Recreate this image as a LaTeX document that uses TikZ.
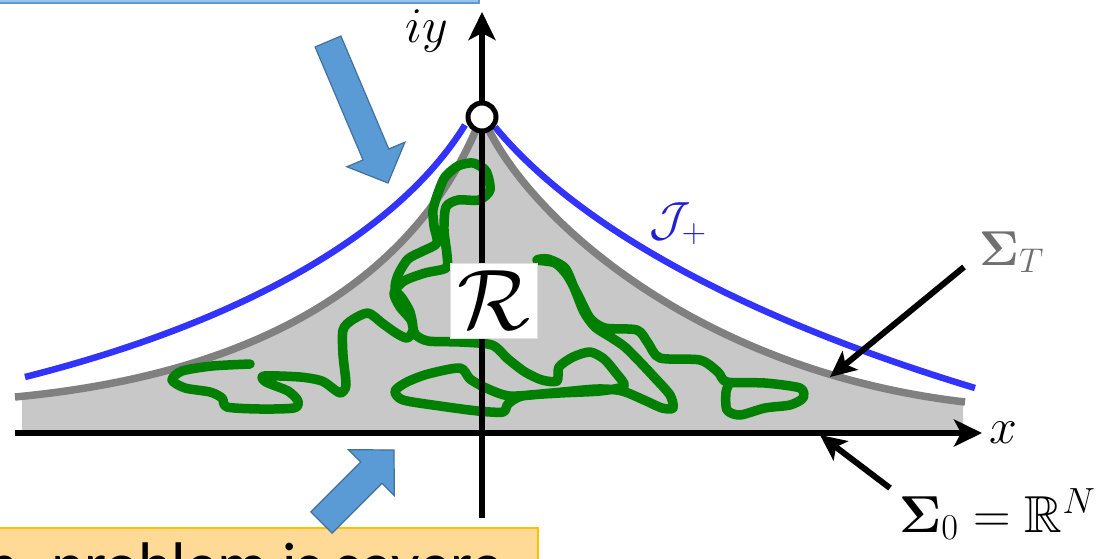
\RequirePackage{fix-cm}
\documentclass[tikz,border=0pt]{standalone}
\usepackage{amssymb}
\usepackage[no-math]{fontspec}
\newfontfamily\slidefont{Carlito}
\usetikzlibrary{arrows.meta,calc}
\definecolor{contourblue}{HTML}{3333FF}
\definecolor{thimblegray}{HTML}{808080}
\definecolor{regiongray}{HTML}{C8C8C8}
\definecolor{walkgreen}{HTML}{008000}
\definecolor{calloutblue}{HTML}{5B9BD5}
\definecolor{calloutedge}{HTML}{41719C}
\definecolor{boxblue}{HTML}{9DC3E6}
\definecolor{boxorange}{HTML}{FFD996}
\definecolor{boxorangeedge}{HTML}{FFC000}
\definecolor{labelblue}{HTML}{2020D0}
\definecolor{labelgray}{HTML}{707070}

\tikzset{
  axis/.style={line width=6pt,-{Stealth[length=28pt,width=27pt,inset=7pt]}},
  pointer/.style={line width=6pt,-{Stealth[length=26pt,width=24pt,inset=6pt]}},
  blockarrow/.style={fill=calloutblue,draw=calloutedge,line width=1.2pt},
  thimble/.style={thimblegray,line width=7.5pt},
  jplus/.style={contourblue,line width=6.5pt},
  walk/.style={walkgreen,line width=9.5pt,line cap=round,line join=round},
  mathlabel/.style={inner sep=0pt,font=\fontsize{50}{58}\selectfont},
}

% block arrow: tail, tip, shaft half width, head half width, head length
\newcommand{\blockarrow}[5]{%
  \coordinate (headbase) at ($(#2)!#5!(#1)$);
  \draw[blockarrow] ($(#1)!#3!90:(#2)$) -- ($(headbase)!#3!90:(#2)$)
    -- ($(headbase)!#4!90:(#2)$) -- (#2) -- ($(headbase)!#4!-90:(#2)$)
    -- ($(headbase)!#3!-90:(#2)$) -- ($(#1)!#3!-90:(#2)$) -- cycle;}

\begin{document}
\begin{tikzpicture}[x=1pt,y=-1pt]
  \useasboundingbox (0,0) rectangle (1099,558);
  \clip (0,0) rectangle (1099,558);
  % Callout boxes
  \draw[fill=boxblue,draw=calloutblue,line width=1.2pt] (-10,-40) rectangle (479,3);
  \draw[fill=boxorange,draw=boxorangeedge,line width=1.5pt] (-10,528) rectangle (538,600);
  \node[font=\slidefont\fontsize{63}{70}\selectfont,anchor=base west,inner sep=0pt] (severe)
    at (-15,586) {n\hspace{19pt} problem is severe};
  % Region between R^N and the thimble
  \fill[regiongray] (22,433) -- (22,396) .. controls (300,370) and (430,250) .. (482,115)
    .. controls (520,210) and (690,370) .. (963,402) -- (963,433) -- cycle;
  \draw[thimble] (15,397) .. controls (300,370) and (430,250) .. (482,115)
    .. controls (520,210) and (690,370) .. (965,402);
  % Lefschetz thimble J_+
  \draw[jplus] (25,377) .. controls (250,320) and (400,230) .. (465,125);
  \draw[jplus] (495,127) .. controls (580,230) and (750,320) .. (975,388);
  % Monte Carlo walk
  \draw[walk] plot[smooth,tension=0.45] coordinates {(250,364) (212,366) (182,371) (172,380)
    (185,388) (210,392) (222,398) (227,407) (260,409) (294,408) (298,401) (288,391) (266,382)
    (264,376) (300,377) (322,381) (335,390) (341,393) (346,385) (343,355) (343,330) (352,320)
    (368,313) (382,323) (396,333) (407,338) (413,330) (410,312) (402,298) (395,289) (398,275)
    (408,259) (423,251) (437,243) (434,226) (433,210) (438,193) (445,177) (458,166) (473,163)
    (486,171) (490,190) (479,200) (458,200) (446,207) (444,230) (447,255) (446,268) (425,273)
    (404,281) (394,293) (400,307) (411,320) (415,334) (428,341) (460,342) (492,345) (508,359)
    (525,372) (542,380) (557,381) (559,367) (573,357) (590,352) (604,359) (616,373) (624,386)
    (600,391) (560,393) (522,396) (508,404) (503,412) (478,411) (440,406) (403,400) (395,391)
    (407,382) (428,374) (460,368) (470,379) (486,388) (510,396) (552,393) (597,389) (622,391)
    (644,400) (662,408) (673,408) (670,395) (655,378) (640,362) (625,347) (612,338) (595,327)
    (584,312) (575,290) (565,268) (548,259) (537,260) (555,263) (567,275) (578,295) (590,318)
    (605,328) (637,330) (648,343) (660,358) (700,360) (718,372) (727,382) (765,383) (800,388)
    (803,398) (790,405) (765,408) (740,415) (727,410) (726,392) (730,382)};
  % Axes
  \coordinate (xstart) at (15,433);
  \coordinate (xend) at (982,433);
  \coordinate (ystart) at (482,518);
  \coordinate (yend) at (482,12);
  \draw[axis] (xstart) -- (xend);
  \draw[axis] (ystart) -- (yend);
  \node[mathlabel,anchor=base] (xlabel) at (1003,443) {$x$};
  \node[mathlabel] (ylabel) at (427,31) {$iy$};
  % Labels
  \node[fill=white,draw=black!12,line width=0.8pt,minimum width=87pt,minimum height=75pt,
    inner sep=0pt,font=\fontsize{86}{90}\selectfont] (rlabel) at (493.5,300.5) {$\mathcal{R}$};
  \node[circle,draw,line width=5pt,fill=white,minimum size=28pt,inner sep=0pt] (saddle) at (482,117) {};
  \node[inner sep=0pt,font=\fontsize{48}{56}\selectfont,text=labelblue] (jlabel) at (678,224) {$\mathcal{J}_+$};
  \node[inner sep=0pt,anchor=base west,font=\fontsize{49}{56}\selectfont,text=labelgray] (sigTlabel)
    at (979,265) {$\mathbf{\Sigma}_T$};
  \node[inner sep=0pt,anchor=base west,font=\fontsize{52}{60}\selectfont] (sigzlabel)
    at (899,532) {$\mathbf{\Sigma}_0=\mathbb{R}^N$};
  % Pointers
  \coordinate (sigTtip) at (830,377);
  \coordinate (sigztip) at (820,435);
  \draw[pointer] ([xshift=-15pt,yshift=-2pt]sigTlabel.base west) -- (sigTtip);
  \draw[pointer] ([xshift=-9pt]sigzlabel.north west) -- (sigztip);
  % Block arrows
  \coordinate (downtail) at (328,41.5);
  \coordinate (downtip) at (388,183);
  \coordinate (uptail) at (321.5,522.5);
  \coordinate (uptip) at (394,450);
  \blockarrow{downtail}{downtip}{14pt}{31.5pt}{31pt}
  \blockarrow{uptail}{uptip}{15pt}{32.5pt}{32pt}
\end{tikzpicture}
\end{document}
